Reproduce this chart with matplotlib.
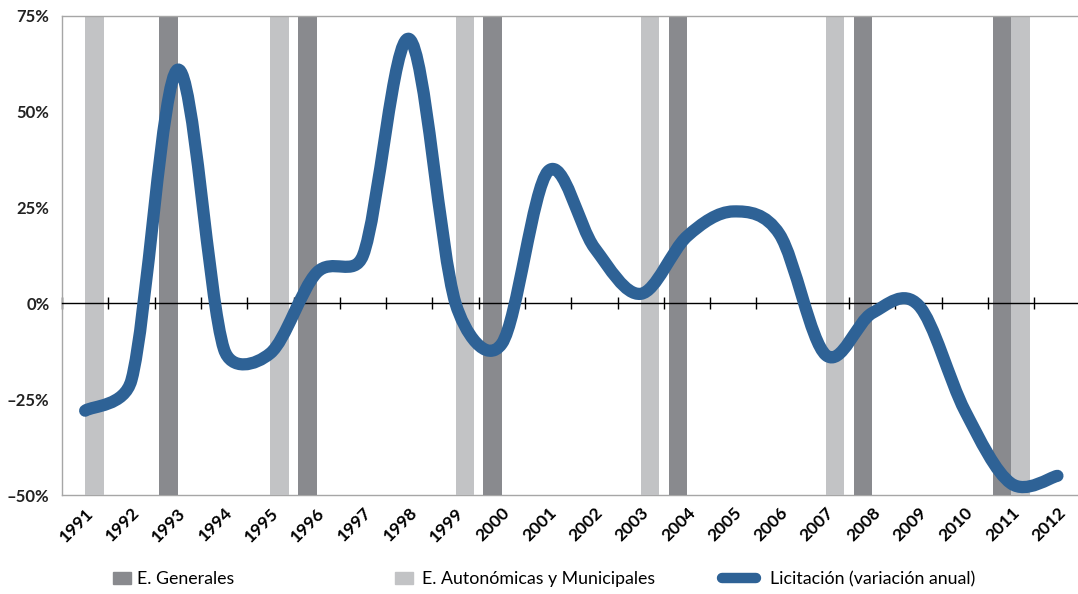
import matplotlib.pyplot as plt
import numpy as np
from matplotlib.path import Path
from matplotlib.patches import PathPatch, Patch
from matplotlib.lines import Line2D

plt.rcParams['font.family'] = ['Lato', 'DejaVu Sans']

years = list(range(1991, 2013))
licitacion = [-28, -20, 61, -12, -13, 8, 12.5, 69, 0, -10.5, 34.5,
              14.5, 2.5, 17.5, 24, 18, -13.5, -2.5, -0.5, -28, -47, -45]
generales = [1993, 1996, 2000, 2004, 2008, 2011]
autonomicas = [1991, 1995, 1999, 2003, 2007, 2011]
y_ticks = [-50, -25, 0, 25, 50, 75]
y_labels = ['\u201350%', '\u201325%', '0%', '25%', '50%', '75%']

dark_grey = '#898a8e'
light_grey = '#c2c3c5'
blue = '#2e6296'
frame_grey = '#a6a6a6'


def smooth_path(ax, xs, ys):
    """Bezier path through the points, smoothed the way spreadsheet charts do it."""
    pts = ax.transData.transform(np.column_stack([xs, ys]))
    n = len(pts)
    verts = [pts[0]]
    codes = [Path.MOVETO]
    for i in range(n - 1):
        p0 = pts[i - 1] if i > 0 else pts[i]
        p1, p2 = pts[i], pts[i + 1]
        p3 = pts[i + 2] if i + 2 < n else pts[i + 1]
        d12 = np.hypot(*(p2 - p1))
        d02 = np.hypot(*(p2 - p0))
        d13 = np.hypot(*(p3 - p1))
        f = 1 / 6
        g = 1 / 6
        if d02 > 0 and d02 / 6 >= d12 / 2:
            f = d12 / (2 * d02)
        if d13 > 0 and d13 / 6 >= d12 / 2:
            g = d12 / (2 * d13)
        c1 = p1 + (p2 - p0) * f
        c2 = p2 - (p3 - p1) * g
        verts += [c1, c2, p2]
        codes += [Path.CURVE4] * 3
    verts = ax.transData.inverted().transform(np.array(verts))
    return Path(verts, codes)


W, H = 1078, 594
fig = plt.figure(figsize=(W / 100, H / 100), dpi=100)
ax = fig.add_axes([62 / W, 1 - 495 / H, 1018.6 / W, 479 / H])
ax.set_xlim(-0.5, len(years) - 0.5)
ax.set_ylim(y_ticks[0], y_ticks[-1])
span = y_ticks[-1] - y_ticks[0]

# election bars, general on the left half of the year, regional on the right
gen_x = [years.index(y) - 0.2 for y in generales]
aut_x = [years.index(y) + 0.2 for y in autonomicas]
ax.bar(gen_x, [span] * len(gen_x), bottom=y_ticks[0], width=0.4,
       color=dark_grey, zorder=1)
ax.bar(aut_x, [span] * len(aut_x), bottom=y_ticks[0], width=0.4,
       color=light_grey, zorder=1)

path = smooth_path(ax, np.arange(len(years)), licitacion)
ax.add_patch(PathPatch(path, fill=False, edgecolor=blue, linewidth=8.8,
                       capstyle='round', joinstyle='round', zorder=4))

# category axis crossing at zero
ax.spines['bottom'].set_position(('data', 0))
ax.spines['bottom'].set_color('black')
ax.spines['bottom'].set_linewidth(1.0)
ax.spines['bottom'].set_zorder(3)
for side in ['left', 'top', 'right']:
    ax.spines[side].set_color(frame_grey)
    ax.spines[side].set_linewidth(1.0)
ax.set_xticks(np.arange(-0.5, len(years), 1))
ax.tick_params(axis='x', direction='inout', length=8, width=1,
               color='black', labelbottom=False)

ax.set_yticks(y_ticks, labels=y_labels)
ax.tick_params(axis='y', length=0, pad=9, labelsize=12, labelcolor='#222222')
for lab in ax.get_yticklabels():
    lab.set_fontweight('bold')

# year labels along the bottom of the plot area
sec = ax.secondary_xaxis(0.0)
sec.spines['bottom'].set_color(frame_grey)
sec.spines['bottom'].set_linewidth(1.0)
sec.set_xticks(range(len(years)), labels=[str(y) for y in years])
sec.tick_params(length=0, pad=7, labelsize=12.5)
for lab in sec.get_xticklabels():
    lab.set_rotation(45)
    lab.set_ha('right')
    lab.set_rotation_mode('anchor')
    lab.set_fontweight('bold')

legend_y = 1 - 579 / H
entries = [
    (Patch(color=dark_grey), 'E. Generales', 113, 1.0, 0.35),
    (Patch(color=light_grey), 'E. Autonómicas y Municipales', 395, 1.0, 0.5),
    (Line2D([], [], color=blue, linewidth=7.5, solid_capstyle='round'),
     'Licitación (variación anual)', 722, 1.9, 0.8),
]
for handle, text, x0, hlen, tpad in entries:
    fig.legend(handles=[handle], labels=[text], loc='center left',
               bbox_to_anchor=(x0 / W, legend_y), frameon=False,
               borderpad=0, borderaxespad=0, handlelength=hlen,
               handleheight=0.7, handletextpad=tpad, fontsize=12.8)

fig.savefig('out.png', dpi=100)
